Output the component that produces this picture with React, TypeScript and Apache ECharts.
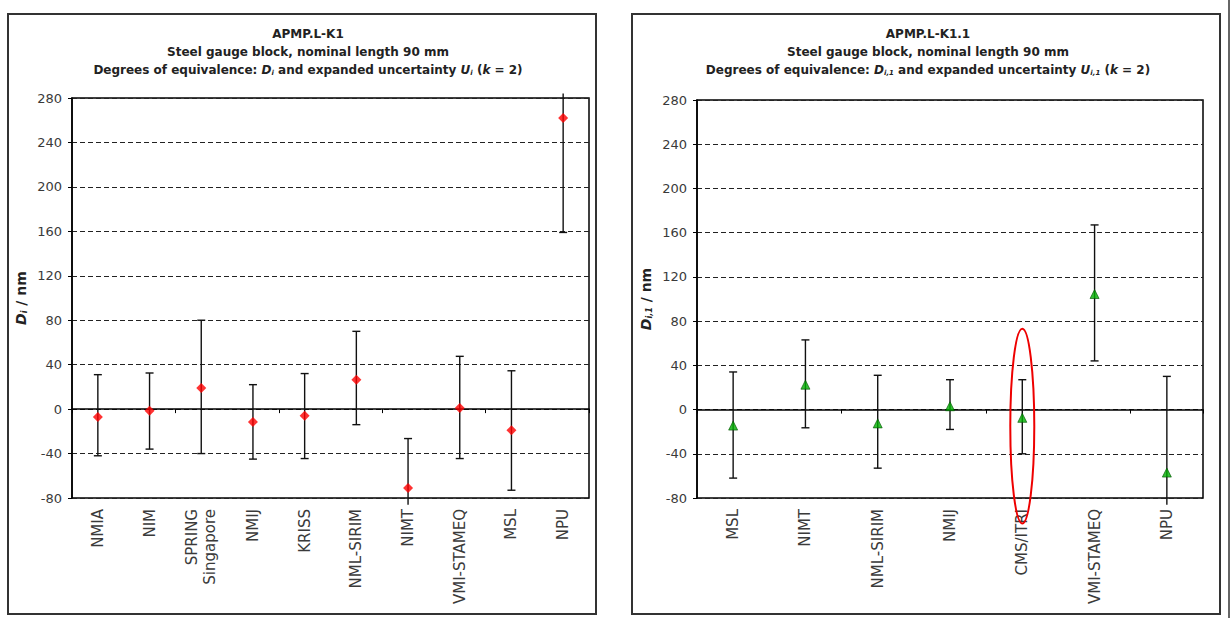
import React, { useEffect, useRef } from "react";
import * as echarts from "echarts";

const leftCats = ["NMIA", "NIM", "SPRING\nSingapore", "NMIJ", "KRISS", "NML-SIRIM", "NIMT", "VMI-STAMEQ", "MSL", "NPU"];
const leftD = [-7, -1.5, 19, -11.5, -6, 26.5, -71, 1, -19, 262];
const leftLow = [-42, -36, -40, -45, -44.5, -14, -86, -44.5, -73, 159];
const leftHigh = [31, 32.5, 80, 22, 32, 70, -26.5, 47.5, 34.5, 284];

const rightCats = ["MSL", "NIMT", "NML-SIRIM", "NMIJ", "CMS/ITRI", "VMI-STAMEQ", "NPU"];
const rightD = [-14.5, 22.5, -12.5, 3, -7.5, 104.5, -57];
const rightLow = [-62, -16.5, -53, -18, -40, 44, -86];
const rightHigh = [34, 63, 31, 27, 27, 167, 30];

const yMin = -80;
const yMax = 280;
const yStep = 40;

const highlightCat = "CMS/ITRI";
const highlightRange = [-103, 73];

const FONT = "DejaVu Sans, Arial, sans-serif";

const richTitle = {
  i: { fontStyle: "italic", fontWeight: "bold", fontSize: 12, fontFamily: FONT, color: "#222" },
  s: { fontStyle: "italic", fontWeight: "bold", fontSize: 7, fontFamily: FONT, color: "#222", padding: [6, 0, 0, 0] },
  n: { fontWeight: "bold", fontSize: 12, fontFamily: FONT, color: "#222" },
};
const richName = {
  i: { fontStyle: "italic", fontWeight: "bold", fontSize: 14, fontFamily: FONT, color: "#222" },
  s: { fontStyle: "italic", fontWeight: "bold", fontSize: 8, fontFamily: FONT, color: "#222", padding: [7, 0, 0, 0] },
  n: { fontWeight: "bold", fontSize: 14, fontFamily: FONT, color: "#222" },
};

function errRender(params: any, api: any) {
  const xi = api.value(0);
  const lo = api.value(1);
  const hi = api.value(2);
  const pLo = api.coord([xi, lo]);
  const pHi = api.coord([xi, hi]);
  const cw = 4;
  const st = { stroke: "#111", lineWidth: 1.4 };
  const children: any[] = [{ type: "line", shape: { x1: pLo[0], y1: pLo[1], x2: pHi[0], y2: pHi[1] }, style: st }];
  if (lo >= yMin && lo <= yMax) {
    children.push({ type: "line", shape: { x1: pLo[0] - cw, y1: pLo[1], x2: pLo[0] + cw, y2: pLo[1] }, style: st });
  }
  if (hi >= yMin && hi <= yMax) {
    children.push({ type: "line", shape: { x1: pHi[0] - cw, y1: pHi[1], x2: pHi[0] + cw, y2: pHi[1] }, style: st });
  }
  return { type: "group", children };
}

function makeAxes(gridIndex: number, cats: string[], nameRich: string) {
  const xA = [
    {
      type: "category",
      gridIndex,
      data: cats,
      position: "bottom",
      axisLine: { show: false, onZero: false },
      axisTick: { show: false },
      axisLabel: { rotate: 90, margin: 11, fontSize: 15, fontFamily: FONT, color: "#3a3a3a", interval: 0, lineHeight: 18 },
      splitLine: { show: false },
    },
    {
      type: "category",
      gridIndex,
      data: cats,
      position: "bottom",
      axisLine: { show: true, onZero: true, lineStyle: { color: "#000", width: 1.5 } },
      axisTick: { show: true, length: 4, lineStyle: { color: "#000", width: 1 } },
      axisLabel: { show: false },
      splitLine: { show: false },
    },
  ];
  const yA = {
    type: "value",
    gridIndex,
    min: yMin,
    max: yMax,
    interval: yStep,
    name: nameRich,
    nameLocation: "middle",
    nameRotate: 90,
    nameGap: 44,
    nameTextStyle: { rich: richName },
    axisLine: { show: true, lineStyle: { color: "#000", width: 1.5 } },
    axisTick: { show: true, length: 4, lineStyle: { color: "#000" } },
    axisLabel: { fontSize: 13, fontFamily: FONT, color: "#3a3a3a", margin: 10 },
    splitLine: { show: true, lineStyle: { color: "#222", type: [5, 3], width: 1 } },
  };
  return { xA, yA };
}

export default function App() {
  const ref = useRef<HTMLDivElement>(null);
  useEffect(() => {
    if (!ref.current) return;
    const chart = echarts.init(ref.current, undefined, { renderer: "svg" });
    const L = makeAxes(0, leftCats, "{i|D}{s|i}{n| / nm}");
    const R = makeAxes(1, rightCats, "{i|D}{s|i,1}{n| / nm}");

    const titleLines = (cx: number, y0: number, code: string, sub: string) => [
      { type: "text", x: cx, y: y0, style: { text: code, textAlign: "center", textVerticalAlign: "middle", font: `bold 12px ${FONT}`, fill: "#222" } },
      { type: "text", x: cx, y: y0 + 18, style: { text: "Steel gauge block, nominal length 90 mm", textAlign: "center", textVerticalAlign: "middle", font: `bold 12px ${FONT}`, fill: "#222" } },
      {
        type: "text",
        x: cx,
        y: y0 + 36,
        style: {
          text: `{n|Degrees of equivalence: }{i|D}{s|${sub}}{n| and expanded uncertainty }{i|U}{s|${sub}}{n| (}{i|k}{n| = 2)}`,
          textAlign: "center",
          textVerticalAlign: "middle",
          rich: richTitle,
          fill: "#222",
        },
      },
    ];

    const option: any = {
      animation: false,
      backgroundColor: "#fff",
      grid: [
        { left: 72, top: 98, width: 517, height: 400, show: true, borderColor: "#000", borderWidth: 1.5, backgroundColor: "transparent" },
        { left: 697, top: 100, width: 506, height: 398, show: true, borderColor: "#000", borderWidth: 1.5, backgroundColor: "transparent" },
      ],
      xAxis: [...L.xA, ...R.xA],
      yAxis: [L.yA, R.yA],
      series: [
        {
          type: "custom",
          xAxisIndex: 0,
          yAxisIndex: 0,
          clip: false,
          renderItem: errRender,
          data: leftCats.map((_, i) => [i, leftLow[i], leftHigh[i]]),
          z: 3,
        },
        {
          type: "scatter",
          xAxisIndex: 0,
          yAxisIndex: 0,
          symbol: "diamond",
          symbolSize: 10,
          itemStyle: { color: "#ff0000" },
          data: leftCats.map((_, i) => [i, leftD[i]]),
          z: 4,
        },
        {
          type: "custom",
          xAxisIndex: 2,
          yAxisIndex: 1,
          clip: false,
          renderItem: errRender,
          data: rightCats.map((_, i) => [i, rightLow[i], rightHigh[i]]),
          z: 3,
        },
        {
          type: "scatter",
          xAxisIndex: 2,
          yAxisIndex: 1,
          symbol: "triangle",
          symbolSize: 9,
          itemStyle: { color: "#00b000", borderColor: "#005500", borderWidth: 0.8 },
          data: rightCats.map((_, i) => [i, rightD[i]]),
          z: 4,
        },
      ],
    };
    chart.setOption(option);

    const hi = rightCats.indexOf(highlightCat);
    const pTop = chart.convertToPixel({ xAxisIndex: 2, yAxisIndex: 1 } as any, [hi, highlightRange[1]]) as number[];
    const pBot = chart.convertToPixel({ xAxisIndex: 2, yAxisIndex: 1 } as any, [hi, highlightRange[0]]) as number[];

    chart.setOption({
      graphic: [
        { type: "rect", shape: { x: 8, y: 14, width: 588, height: 600 }, style: { fill: "none", stroke: "#333", lineWidth: 2 }, z: -1 },
        { type: "rect", shape: { x: 632, y: 14, width: 588, height: 600 }, style: { fill: "none", stroke: "#333", lineWidth: 2 }, z: -1 },
        { type: "line", shape: { x1: 1229, y1: 0, x2: 1229, y2: 618 }, style: { stroke: "#333", lineWidth: 1.5 } },
        ...titleLines(308, 34, "APMP.L-K1", "i"),
        ...titleLines(928, 34, "APMP.L-K1.1", "i,1"),
        {
          type: "ellipse",
          shape: { cx: pTop[0], cy: (pTop[1] + pBot[1]) / 2, rx: 12, ry: (pBot[1] - pTop[1]) / 2 },
          style: { fill: "none", stroke: "#ee0000", lineWidth: 2 },
          z: 10,
        },
      ],
    });

    return () => chart.dispose();
  }, []);
  return <div ref={ref} style={{ position: "fixed", left: 0, top: 0, width: 1232, height: 618 }} />;
}
